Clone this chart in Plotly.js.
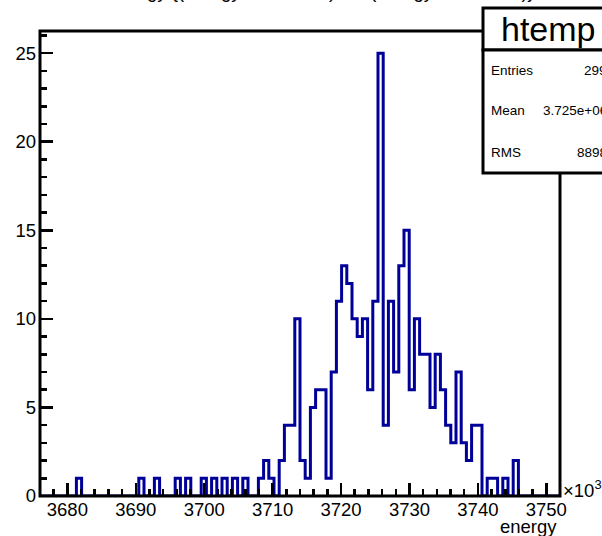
<!DOCTYPE html>
<html>
<head>
<meta charset="utf-8">
<script src="https://cdn.plot.ly/plotly-3.0.1.min.js"></script>
<style>
  html, body { margin: 0; padding: 0; background: #ffffff; overflow: hidden; }
  #chart { width: 602px; height: 536px; }
</style>
</head>
<body>
<div id="chart"></div>
<script>
// Energy spectrum (htemp): 100 equal bins between binLow and binHigh, in units of 10^3
const binLow = 3676;
const binHigh = 3752;
const counts = [
  0, 0, 0, 0, 0, 0, 0, 1, 0, 0,
  0, 0, 0, 0, 0, 0, 0, 0, 0, 1,
  0, 0, 1, 0, 0, 0, 1, 0, 1, 0,
  0, 1, 0, 1, 0, 1, 0, 1, 0, 1,
  0, 0, 1, 2, 1, 0, 2, 4, 4, 10,
  2, 1, 5, 6, 6, 1, 7, 11, 13, 12,
  10, 9, 10, 6, 11, 25, 4, 11, 7, 13,
  15, 6, 10, 8, 8, 5, 8, 6, 4, 3,
  7, 3, 2, 4, 4, 0, 1, 1, 0, 1,
  0, 2, 0, 0, 0, 0, 0, 0, 0, 0
];
const xTickValues = [3680, 3690, 3700, 3710, 3720, 3730, 3740, 3750];
const xTickLabels = ['3680', '3690', '3700', '3710', '3720', '3730', '3740', '3750'];
const yTickValues = [0, 5, 10, 15, 20, 25];
const yTickLabels = ['0', '5', '10', '15', '20', '25'];
const histName = 'htemp';
const plotTitle = 'energy {(energy>3.67e+06) && (energy<3.76e+06)}';
const xTitle = 'energy';
const statsLabels = ['Entries', 'Mean', 'RMS'];
const statsValues = ['299', '3.725e+06', '8898'];

// step outline: one point per bin low edge, plus the closing high edge
const nBins = counts.length;
const binWidth = (binHigh - binLow) / nBins;
const stepX = [];
const stepY = [];
for (let i = 0; i < nBins; i++) {
  stepX.push(binLow + i * binWidth);
  stepY.push(counts[i]);
}
stepX.push(binHigh);
stepY.push(counts[nBins - 1]);

// page geometry (pixels) for the frame and the statistics box
const W = 602, H = 536;
const M = { l: 40, r: 42, t: 31, b: 40 };
const PW = W - M.l - M.r, PH = H - M.t - M.b;
const px = v => (v - M.l) / PW;
const py = v => (H - M.b - v) / PH;

const FONT = 'Liberation Sans, Arial, Helvetica, sans-serif';
const yMax = 26.25;

const trace = {
  type: 'scatter',
  mode: 'lines',
  x: stepX,
  y: stepY,
  line: { shape: 'hv', color: '#000099', width: 3 },
  hoverinfo: 'skip'
};

const shapes = [
  // axis frame
  { type: 'rect', xref: 'paper', yref: 'paper', x0: 0, x1: 1, y0: 0, y1: 1,
    line: { color: '#000000', width: 3 }, fillcolor: 'rgba(0,0,0,0)', layer: 'above' },
  // statistics box: name header and body
  { type: 'rect', xref: 'paper', yref: 'paper', x0: px(483), x1: px(660), y0: py(50), y1: py(8),
    line: { color: '#000000', width: 3 }, fillcolor: '#ffffff', layer: 'above' },
  { type: 'rect', xref: 'paper', yref: 'paper', x0: px(483), x1: px(660), y0: py(173), y1: py(50),
    line: { color: '#000000', width: 3 }, fillcolor: '#ffffff', layer: 'above' }
];

const annotations = [
  // canvas title, sitting mostly above the top edge of the page
  { xref: 'paper', yref: 'paper', x: px(322), y: py(-8), xanchor: 'center', yanchor: 'middle',
    text: plotTitle, showarrow: false, font: { family: FONT, size: 18.5, color: '#000000' } },
  { xref: 'paper', yref: 'paper', x: px(548.5), y: py(29), xanchor: 'center', yanchor: 'middle',
    text: histName, showarrow: false, font: { family: FONT, size: 34, color: '#000000' } },
  { xref: 'paper', yref: 'paper', x: px(559), y: py(526.5), xanchor: 'right', yanchor: 'middle',
    text: xTitle, showarrow: false, font: { family: FONT, size: 18.5, color: '#000000' } },
  { xref: 'paper', yref: 'paper', x: px(561), y: py(489), xanchor: 'left', yanchor: 'middle',
    text: '×10<sup>3</sup>', showarrow: false, font: { family: FONT, size: 18.5, color: '#000000' } }
];
const statsRowY = [70, 111, 152];
statsLabels.forEach((lab, i) => {
  annotations.push({ xref: 'paper', yref: 'paper', x: px(489), y: py(statsRowY[i]),
    xanchor: 'left', yanchor: 'middle', text: lab, showarrow: false,
    font: { family: FONT, size: 13.5, color: '#000000' } });
  annotations.push({ xref: 'paper', yref: 'paper', x: px(609), y: py(statsRowY[i]),
    xanchor: 'right', yanchor: 'middle', text: statsValues[i], showarrow: false,
    font: { family: FONT, size: 13.5, color: '#000000' } });
});

const layout = {
  width: W,
  height: H,
  margin: M,
  paper_bgcolor: '#ffffff',
  plot_bgcolor: '#ffffff',
  showlegend: false,
  font: { family: FONT, size: 18.5, color: '#000000' },
  xaxis: {
    range: [binLow, binHigh],
    tickmode: 'array',
    tickvals: xTickValues,
    ticktext: xTickLabels,
    ticks: 'inside',
    ticklen: 13,
    tickwidth: 2.5,
    tickcolor: '#000000',
    minor: { tickmode: 'linear', tick0: 3680, dtick: 2, ticks: 'inside', ticklen: 7,
             tickwidth: 2.5, tickcolor: '#000000', showgrid: false },
    showgrid: false,
    zeroline: false,
    showline: false,
    tickfont: { family: FONT, size: 18.5, color: '#000000' },
    fixedrange: true
  },
  yaxis: {
    range: [0, yMax],
    tickmode: 'array',
    tickvals: yTickValues,
    ticktext: yTickLabels,
    ticks: 'inside',
    ticklen: 13,
    tickwidth: 2.5,
    tickcolor: '#000000',
    ticklabelstandoff: 3,
    minor: { tickmode: 'linear', tick0: 0, dtick: 1, ticks: 'inside', ticklen: 7,
             tickwidth: 2.5, tickcolor: '#000000', showgrid: false },
    showgrid: false,
    zeroline: false,
    showline: false,
    tickfont: { family: FONT, size: 18.5, color: '#000000' },
    fixedrange: true
  },
  shapes: shapes,
  annotations: annotations
};

Plotly.newPlot('chart', [trace], layout, { displayModeBar: false, staticPlot: true });
</script>
</body>
</html>
